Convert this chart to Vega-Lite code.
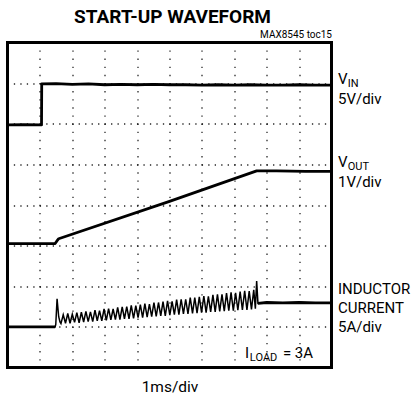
{
  "$schema": "https://vega.github.io/schema/vega-lite/v6.json",
  "autosize": "none",
  "width": 324,
  "height": 325,
  "padding": {"left": 7.5, "top": 42.5, "right": 79.5, "bottom": 35.5},
  "background": "white",
  "title": {
    "text": "START-UP WAVEFORM",
    "anchor": "middle",
    "frame": "group",
    "orient": "top",
    "offset": -12.3,
    "baseline": "alphabetic",
    "dx": 3,
    "font": "Roboto, sans-serif",
    "fontSize": 19,
    "fontWeight": "bold",
    "color": "#000"
  },
  "config": {
    "view": {"stroke": "#000", "strokeWidth": 3},
    "axis": {"labels": false, "ticks": false, "domain": false, "titleFont": "Roboto, sans-serif", "titleFontWeight": "normal", "titleColor": "#000"},
    "axisX": {"tickCount": 10, "gridDash": [1.3, 6.825], "gridDashOffset": 0.65, "gridColor": "#000", "gridWidth": 1.3, "gridOpacity": 0.85},
    "axisY": {"tickCount": 8, "grid": true, "gridDash": [1.3, 5.18], "gridDashOffset": 0.65, "gridColor": "#000", "gridWidth": 1.3, "gridOpacity": 0.85, "title": null}
  },
  "datasets": {
    "traces": [
      {"s": "VIN", "g": "VIN", "t": 0, "v": 5.97},
      {"s": "VIN", "g": "VIN", "t": 0.5, "v": 5.98},
      {"s": "VIN", "g": "VIN", "t": 1.05, "v": 5.97},
      {"s": "VIN", "g": "VIN", "t": 1.056, "v": 6.98},
      {"s": "VIN", "g": "VIN", "t": 1.5, "v": 6.99},
      {"s": "VIN", "g": "VIN", "t": 2, "v": 6.97},
      {"s": "VIN", "g": "VIN", "t": 2.5, "v": 6.98},
      {"s": "VIN", "g": "VIN", "t": 3, "v": 6.96},
      {"s": "VIN", "g": "VIN", "t": 3.5, "v": 6.97},
      {"s": "VIN", "g": "VIN", "t": 4, "v": 6.96},
      {"s": "VIN", "g": "VIN", "t": 4.5, "v": 6.97},
      {"s": "VIN", "g": "VIN", "t": 5, "v": 6.96},
      {"s": "VIN", "g": "VIN", "t": 5.5, "v": 6.96},
      {"s": "VIN", "g": "VIN", "t": 6, "v": 6.95},
      {"s": "VIN", "g": "VIN", "t": 6.5, "v": 6.96},
      {"s": "VIN", "g": "VIN", "t": 7, "v": 6.95},
      {"s": "VIN", "g": "VIN", "t": 7.5, "v": 6.96},
      {"s": "VIN", "g": "VIN", "t": 8, "v": 6.95},
      {"s": "VIN", "g": "VIN", "t": 8.5, "v": 6.95},
      {"s": "VIN", "g": "VIN", "t": 9, "v": 6.96},
      {"s": "VIN", "g": "VIN", "t": 9.5, "v": 6.95},
      {"s": "VIN", "g": "VIN", "t": 10, "v": 6.95},
      {"s": "VOUT", "g": "VOUT", "t": 0, "v": 3.05},
      {"s": "VOUT", "g": "VOUT", "t": 0.7, "v": 3.05},
      {"s": "VOUT", "g": "VOUT", "t": 1.47, "v": 3.05},
      {"s": "VOUT", "g": "VOUT", "t": 1.52, "v": 3.11},
      {"s": "VOUT", "g": "VOUT", "t": 1.58, "v": 3.17},
      {"s": "VOUT", "g": "VOUT", "t": 5.0, "v": 4.09},
      {"s": "VOUT", "g": "VOUT", "t": 7.69, "v": 4.84},
      {"s": "VOUT", "g": "VOUT", "t": 8.3, "v": 4.84},
      {"s": "VOUT", "g": "VOUT", "t": 9.2, "v": 4.83},
      {"s": "VOUT", "g": "VOUT", "t": 10, "v": 4.83},
      {"s": "IL", "g": "pre", "t": 0, "v": 1.0},
      {"s": "IL", "g": "pre", "t": 0.75, "v": 1.0},
      {"s": "IL", "g": "pre", "t": 1.47, "v": 1.0},
      {"s": "IL", "g": "sw", "t": 1.49, "v": 1.06},
      {"s": "IL", "g": "sw", "t": 1.53, "v": 1.69},
      {"s": "IL", "g": "sw", "t": 1.58, "v": 1.25},
      {"s": "IL", "g": "sw", "t": 1.62, "v": 1.12},
      {"s": "IL", "g": "sw", "t": 1.65, "v": 1.08},
      {"s": "IL", "g": "sw", "t": 1.72, "v": 1.30},
      {"s": "IL", "g": "sw", "t": 1.79, "v": 1.09},
      {"s": "IL", "g": "sw", "t": 1.86, "v": 1.33},
      {"s": "IL", "g": "sw", "t": 1.93, "v": 1.09},
      {"s": "IL", "g": "sw", "t": 2.00, "v": 1.31},
      {"s": "IL", "g": "sw", "t": 2.07, "v": 1.11},
      {"s": "IL", "g": "sw", "t": 2.14, "v": 1.35},
      {"s": "IL", "g": "sw", "t": 2.21, "v": 1.10},
      {"s": "IL", "g": "sw", "t": 2.28, "v": 1.36},
      {"s": "IL", "g": "sw", "t": 2.35, "v": 1.12},
      {"s": "IL", "g": "sw", "t": 2.42, "v": 1.38},
      {"s": "IL", "g": "sw", "t": 2.49, "v": 1.13},
      {"s": "IL", "g": "sw", "t": 2.56, "v": 1.37},
      {"s": "IL", "g": "sw", "t": 2.63, "v": 1.13},
      {"s": "IL", "g": "sw", "t": 2.70, "v": 1.41},
      {"s": "IL", "g": "sw", "t": 2.77, "v": 1.15},
      {"s": "IL", "g": "sw", "t": 2.84, "v": 1.40},
      {"s": "IL", "g": "sw", "t": 2.91, "v": 1.15},
      {"s": "IL", "g": "sw", "t": 2.98, "v": 1.44},
      {"s": "IL", "g": "sw", "t": 3.05, "v": 1.16},
      {"s": "IL", "g": "sw", "t": 3.12, "v": 1.45},
      {"s": "IL", "g": "sw", "t": 3.19, "v": 1.17},
      {"s": "IL", "g": "sw", "t": 3.26, "v": 1.44},
      {"s": "IL", "g": "sw", "t": 3.33, "v": 1.18},
      {"s": "IL", "g": "sw", "t": 3.40, "v": 1.48},
      {"s": "IL", "g": "sw", "t": 3.47, "v": 1.18},
      {"s": "IL", "g": "sw", "t": 3.54, "v": 1.49},
      {"s": "IL", "g": "sw", "t": 3.61, "v": 1.20},
      {"s": "IL", "g": "sw", "t": 3.68, "v": 1.50},
      {"s": "IL", "g": "sw", "t": 3.75, "v": 1.20},
      {"s": "IL", "g": "sw", "t": 3.82, "v": 1.53},
      {"s": "IL", "g": "sw", "t": 3.89, "v": 1.21},
      {"s": "IL", "g": "sw", "t": 3.96, "v": 1.52},
      {"s": "IL", "g": "sw", "t": 4.03, "v": 1.23},
      {"s": "IL", "g": "sw", "t": 4.10, "v": 1.55},
      {"s": "IL", "g": "sw", "t": 4.17, "v": 1.23},
      {"s": "IL", "g": "sw", "t": 4.24, "v": 1.57},
      {"s": "IL", "g": "sw", "t": 4.31, "v": 1.24},
      {"s": "IL", "g": "sw", "t": 4.38, "v": 1.56},
      {"s": "IL", "g": "sw", "t": 4.45, "v": 1.25},
      {"s": "IL", "g": "sw", "t": 4.52, "v": 1.60},
      {"s": "IL", "g": "sw", "t": 4.59, "v": 1.26},
      {"s": "IL", "g": "sw", "t": 4.66, "v": 1.60},
      {"s": "IL", "g": "sw", "t": 4.73, "v": 1.27},
      {"s": "IL", "g": "sw", "t": 4.80, "v": 1.62},
      {"s": "IL", "g": "sw", "t": 4.87, "v": 1.27},
      {"s": "IL", "g": "sw", "t": 4.94, "v": 1.64},
      {"s": "IL", "g": "sw", "t": 5.01, "v": 1.29},
      {"s": "IL", "g": "sw", "t": 5.08, "v": 1.63},
      {"s": "IL", "g": "sw", "t": 5.15, "v": 1.30},
      {"s": "IL", "g": "sw", "t": 5.22, "v": 1.67},
      {"s": "IL", "g": "sw", "t": 5.29, "v": 1.30},
      {"s": "IL", "g": "sw", "t": 5.36, "v": 1.68},
      {"s": "IL", "g": "sw", "t": 5.43, "v": 1.32},
      {"s": "IL", "g": "sw", "t": 5.50, "v": 1.68},
      {"s": "IL", "g": "sw", "t": 5.57, "v": 1.32},
      {"s": "IL", "g": "sw", "t": 5.64, "v": 1.72},
      {"s": "IL", "g": "sw", "t": 5.71, "v": 1.33},
      {"s": "IL", "g": "sw", "t": 5.78, "v": 1.72},
      {"s": "IL", "g": "sw", "t": 5.85, "v": 1.34},
      {"s": "IL", "g": "sw", "t": 5.92, "v": 1.74},
      {"s": "IL", "g": "sw", "t": 5.99, "v": 1.35},
      {"s": "IL", "g": "sw", "t": 6.06, "v": 1.76},
      {"s": "IL", "g": "sw", "t": 6.13, "v": 1.35},
      {"s": "IL", "g": "sw", "t": 6.20, "v": 1.75},
      {"s": "IL", "g": "sw", "t": 6.27, "v": 1.37},
      {"s": "IL", "g": "sw", "t": 6.34, "v": 1.79},
      {"s": "IL", "g": "sw", "t": 6.41, "v": 1.37},
      {"s": "IL", "g": "sw", "t": 6.48, "v": 1.80},
      {"s": "IL", "g": "sw", "t": 6.55, "v": 1.38},
      {"s": "IL", "g": "sw", "t": 6.62, "v": 1.80},
      {"s": "IL", "g": "sw", "t": 6.69, "v": 1.39},
      {"s": "IL", "g": "sw", "t": 6.76, "v": 1.83},
      {"s": "IL", "g": "sw", "t": 6.83, "v": 1.40},
      {"s": "IL", "g": "sw", "t": 6.90, "v": 1.85},
      {"s": "IL", "g": "sw", "t": 6.97, "v": 1.40},
      {"s": "IL", "g": "sw", "t": 7.04, "v": 1.84},
      {"s": "IL", "g": "sw", "t": 7.11, "v": 1.41},
      {"s": "IL", "g": "sw", "t": 7.18, "v": 1.87},
      {"s": "IL", "g": "sw", "t": 7.25, "v": 1.42},
      {"s": "IL", "g": "sw", "t": 7.32, "v": 1.89},
      {"s": "IL", "g": "sw", "t": 7.39, "v": 1.42},
      {"s": "IL", "g": "sw", "t": 7.46, "v": 1.88},
      {"s": "IL", "g": "sw", "t": 7.53, "v": 1.43},
      {"s": "IL", "g": "sw", "t": 7.60, "v": 1.91},
      {"s": "IL", "g": "sw", "t": 7.65, "v": 1.45},
      {"s": "IL", "g": "sw", "t": 7.69, "v": 2.13},
      {"s": "IL", "g": "post", "t": 7.73, "v": 1.58},
      {"s": "IL", "g": "post", "t": 8.0, "v": 1.60},
      {"s": "IL", "g": "post", "t": 8.5, "v": 1.59},
      {"s": "IL", "g": "post", "t": 9.0, "v": 1.60},
      {"s": "IL", "g": "post", "t": 9.5, "v": 1.59},
      {"s": "IL", "g": "post", "t": 10, "v": 1.59}
    ],
    "labels": [
      {"kind": "main", "txt": "V", "t": 10.2, "v": 6.97},
      {"kind": "main", "txt": "5V/div", "t": 10.2, "v": 6.49},
      {"kind": "main", "txt": "V", "t": 10.2, "v": 4.93},
      {"kind": "main", "txt": "1V/div", "t": 10.2, "v": 4.45},
      {"kind": "main", "txt": "INDUCTOR", "t": 10.2, "v": 1.81},
      {"kind": "main", "txt": "CURRENT", "t": 10.2, "v": 1.35},
      {"kind": "main", "txt": "5A/div", "t": 10.2, "v": 0.88},
      {"kind": "main", "txt": "I", "t": 7.33, "v": 0.226},
      {"kind": "main", "txt": "= 3A", "t": 8.5, "v": 0.226},
      {"kind": "sub", "txt": "IN", "t": 10.5, "v": 6.91},
      {"kind": "sub", "txt": "OUT", "t": 10.5, "v": 4.87},
      {"kind": "sub", "txt": "LOAD", "t": 7.48, "v": 0.17}
    ]
  },
  "resolve": {"axis": {"x": "independent"}},
  "layer": [
    {
      "data": {"name": "traces"},
      "transform": [{"filter": "datum.s !== 'IL'"}],
      "mark": {"type": "line", "color": "#000", "strokeWidth": 2.8, "strokeJoin": "round"},
      "encoding": {
        "x": {"field": "t", "type": "quantitative", "scale": {"domain": [0, 10], "nice": false, "zero": false},
              "axis": {"orient": "bottom", "grid": true, "title": "1ms/div", "titleFontSize": 15.5, "titlePadding": 12}},
        "y": {"field": "v", "type": "quantitative", "scale": {"domain": [0, 8], "nice": false, "zero": false}},
        "detail": {"field": "s"}
      }
    },
    {
      "data": {"name": "traces"},
      "transform": [{"filter": "datum.s === 'IL'"}],
      "mark": {"type": "line", "color": "#000", "strokeWidth": 1.5},
      "encoding": {
        "x": {"field": "t", "type": "quantitative", "axis": null},
        "y": {"field": "v", "type": "quantitative"}
      }
    },
    {
      "data": {"name": "traces"},
      "transform": [{"filter": "datum.g === 'pre' || datum.g === 'post'"}],
      "mark": {"type": "line", "color": "#000", "strokeWidth": 2.8},
      "encoding": {
        "x": {"field": "t", "type": "quantitative", "axis": null},
        "y": {"field": "v", "type": "quantitative"},
        "detail": {"field": "g"}
      }
    },
    {
      "mark": {"type": "rule", "color": "#000", "strokeWidth": 6, "strokeDash": [1, 5.48], "strokeDashOffset": 0.5},
      "encoding": {"y": {"datum": 4, "type": "quantitative"}}
    },
    {
      "mark": {"type": "rule", "color": "#000", "strokeWidth": 6, "strokeDash": [1, 7.125], "strokeDashOffset": 0.5},
      "encoding": {"x": {"datum": 5, "type": "quantitative", "axis": null}}
    },
    {
      "mark": {"type": "rule", "color": "#000", "strokeWidth": 1.5, "strokeDash": [1.3, 5.18], "strokeDashOffset": 0.65, "yOffset": 3.5},
      "encoding": {"y": {"datum": 8, "type": "quantitative"}}
    },
    {
      "mark": {"type": "rule", "color": "#000", "strokeWidth": 1.5, "strokeDash": [1.3, 5.18], "strokeDashOffset": 0.65, "yOffset": -3.5},
      "encoding": {"y": {"datum": 0, "type": "quantitative"}}
    },
    {
      "mark": {"type": "rule", "color": "#000", "strokeWidth": 1.5, "strokeDash": [1.3, 6.825], "strokeDashOffset": 0.65, "xOffset": 3.5},
      "encoding": {"x": {"datum": 0, "type": "quantitative", "axis": null}}
    },
    {
      "mark": {"type": "rule", "color": "#000", "strokeWidth": 1.5, "strokeDash": [1.3, 6.825], "strokeDashOffset": 0.65, "xOffset": -3.5},
      "encoding": {"x": {"datum": 10, "type": "quantitative", "axis": null}}
    },
    {
      "data": {"name": "labels"},
      "transform": [{"filter": "datum.kind === 'main'"}],
      "mark": {"type": "text", "align": "left", "baseline": "alphabetic", "font": "Roboto, sans-serif", "fontSize": 15, "color": "#000"},
      "encoding": {
        "x": {"field": "t", "type": "quantitative",
              "axis": {"orient": "top", "grid": false, "title": "MAX8545 toc15", "titleAnchor": "end", "titleFontSize": 10, "titleBaseline": "alphabetic", "titlePadding": 5}},
        "y": {"field": "v", "type": "quantitative"},
        "text": {"field": "txt"}
      }
    },
    {
      "data": {"name": "labels"},
      "transform": [{"filter": "datum.kind === 'sub'"}],
      "mark": {"type": "text", "align": "left", "baseline": "alphabetic", "font": "Roboto, sans-serif", "fontSize": 11, "color": "#000"},
      "encoding": {
        "x": {"field": "t", "type": "quantitative", "axis": null},
        "y": {"field": "v", "type": "quantitative"},
        "text": {"field": "txt"}
      }
    }
  ]
}
